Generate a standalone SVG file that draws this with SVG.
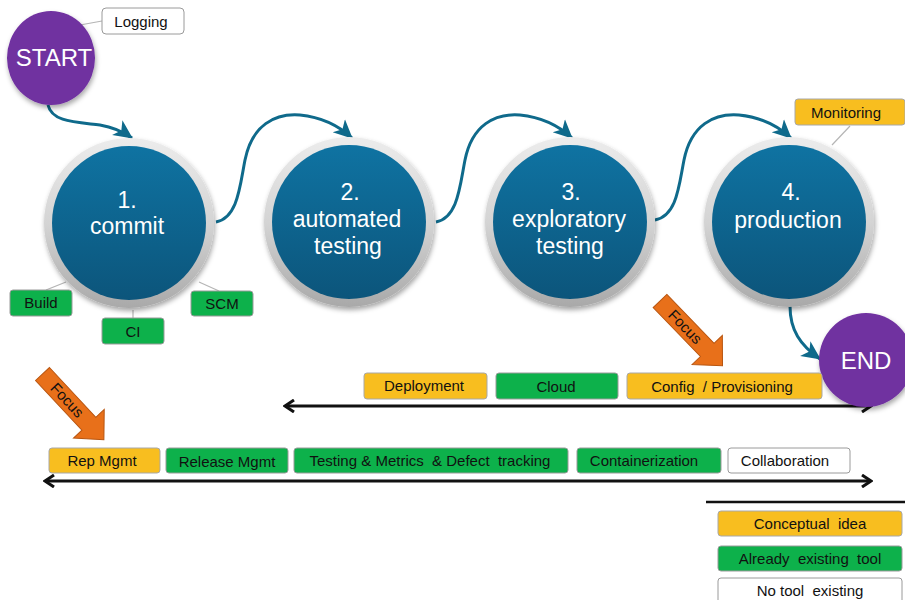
<svg xmlns="http://www.w3.org/2000/svg" width="905" height="600" viewBox="0 0 905 600">
  <defs>
    <style>
      .lbl { font-family: "Liberation Sans", Arial, sans-serif; font-size: 15px; fill: #111; text-anchor: middle; white-space: pre; }
      .big { font-family: "Liberation Sans", Arial, sans-serif; font-size: 23px; fill: #fff; text-anchor: middle; }
      .term { font-family: "Liberation Sans", Arial, sans-serif; font-size: 24px; fill: #fff; text-anchor: middle; }
      .green { fill: #0db14b; stroke: #9a9a9a; stroke-width: 1; }
      .yellow { fill: #f8be1f; stroke: #a8a8a8; stroke-width: 1; }
      .white { fill: #ffffff; stroke: #9a9a9a; stroke-width: 1; }
      .tie { stroke: #b5b5b5; stroke-width: 1.2; fill: none; }
      .flow { stroke: #0f6a8b; stroke-width: 3; fill: none; marker-end: url(#tealHead); }
      .span { stroke: #111; stroke-width: 3; fill: none; marker-start: url(#chev); marker-end: url(#chev); }
      .focus { fill: #e8701a; stroke: #b85510; stroke-width: 1; }
      .ftxt { font-family: "Liberation Sans", Arial, sans-serif; font-size: 15px; fill: #111; text-anchor: middle; }
    </style>
    <linearGradient id="ring" x1="0" y1="0" x2="0" y2="1">
      <stop offset="0" stop-color="#ececec"/>
      <stop offset="0.5" stop-color="#d4d4d4"/>
      <stop offset="1" stop-color="#a9a9a9"/>
    </linearGradient>
    <linearGradient id="disc" x1="0" y1="0" x2="0" y2="1">
      <stop offset="0" stop-color="#0f73a2"/>
      <stop offset="1" stop-color="#0c557b"/>
    </linearGradient>
    <filter id="shade" x="-20%" y="-20%" width="140%" height="140%">
      <feDropShadow dx="1" dy="3" stdDeviation="2.5" flood-color="#000" flood-opacity="0.35"/>
    </filter>
    <marker id="tealHead" markerUnits="userSpaceOnUse" markerWidth="20" markerHeight="20" viewBox="0 0 20 20" refX="18" refY="10" orient="auto">
      <path d="M0,1 L19,10 L0,19 L5,10 Z" fill="#0f6a8b"/>
    </marker>
    <marker id="chev" markerUnits="userSpaceOnUse" markerWidth="14" markerHeight="14" viewBox="0 0 14 14" refX="12" refY="7" orient="auto-start-reverse">
      <path d="M3,1 L12,7 L3,13" fill="none" stroke="#111" stroke-width="3"/>
    </marker>
  </defs>

  <!-- flow connectors between stages -->
  <g id="connectors">
    <path class="flow" d="M48,105 C52,122 75,122 100,125 C112,127 122,131 132,138"/>
    <path class="flow" d="M216,222 C238,218 240,185 245,160 C252,125 275,113 300,115 C320,117 338,125 352,138"/>
    <path class="flow" d="M436,222 C458,218 460,185 465,160 C472,125 495,113 520,115 C540,117 558,125 572,138"/>
    <path class="flow" d="M655,220 C677,216 679,185 684,160 C691,125 714,113 739,115 C759,117 777,125 791,138"/>
    <path class="flow" d="M790,306 C790,330 800,345 820,359"/>
    <!-- thin ties from stages to their tool labels -->
    <line class="tie" x1="80" y1="25" x2="102" y2="21"/>
    <line class="tie" x1="46" y1="290" x2="66" y2="282"/>
    <line class="tie" x1="133" y1="318" x2="133" y2="310"/>
    <line class="tie" x1="199" y1="282" x2="219" y2="291"/>
    <line class="tie" x1="850" y1="126" x2="832" y2="145"/>
    <!-- spans -->
    <line class="span" x1="285" y1="406" x2="871" y2="406"/>
    <line class="span" x1="45" y1="481" x2="871" y2="481"/>
    <line x1="706" y1="502" x2="905" y2="502" stroke="#111" stroke-width="2.5"/>
  </g>

  <g id="start">
    <ellipse cx="51" cy="58" rx="44" ry="47" fill="#7030a0" filter="url(#shade)"/>
    <text class="term" x="54" y="66">START</text>
  </g>
  <g id="logging">
    <rect class="white" x="102" y="8" width="82" height="26" rx="4"/>
    <text class="lbl" x="141" y="27">Logging</text>
  </g>

  <g id="stage1">
    <circle cx="129" cy="223" r="85" fill="url(#ring)" filter="url(#shade)"/>
    <circle cx="129" cy="223" r="77" fill="url(#disc)"/>
    <text class="big" x="127" y="208">1.</text>
    <text class="big" x="127" y="234">commit</text>
  </g>
  <g id="stage2">
    <circle cx="349" cy="222" r="85" fill="url(#ring)" filter="url(#shade)"/>
    <circle cx="349" cy="222" r="77" fill="url(#disc)"/>
    <text class="big" x="350" y="200">2.</text>
    <text class="big" x="347" y="227">automated</text>
    <text class="big" x="348" y="254">testing</text>
  </g>
  <g id="stage3">
    <circle cx="570" cy="222" r="85" fill="url(#ring)" filter="url(#shade)"/>
    <circle cx="570" cy="222" r="77" fill="url(#disc)"/>
    <text class="big" x="571" y="200">3.</text>
    <text class="big" x="569" y="227">exploratory</text>
    <text class="big" x="570" y="254">testing</text>
  </g>
  <g id="stage4">
    <circle cx="789" cy="222" r="85" fill="url(#ring)" filter="url(#shade)"/>
    <circle cx="789" cy="222" r="77" fill="url(#disc)"/>
    <text class="big" x="791" y="200">4.</text>
    <text class="big" x="788" y="228">production</text>
  </g>

  <g id="end">
    <circle cx="866" cy="360" r="47" fill="#7030a0" filter="url(#shade)"/>
    <text class="term" x="866" y="369">END</text>
  </g>

  <g id="build"><rect class="green" x="10" y="290" width="62" height="26" rx="3"/><text class="lbl" x="41" y="308">Build</text></g>
  <g id="ci"><rect class="green" x="102" y="318" width="62" height="26" rx="3"/><text class="lbl" x="133" y="337">CI</text></g>
  <g id="scm"><rect class="green" x="191" y="291" width="62" height="25" rx="3"/><text class="lbl" x="222" y="309">SCM</text></g>
  <g id="monitoring"><rect class="yellow" x="795" y="99" width="110" height="26" rx="3"/><text class="lbl" x="846" y="118">Monitoring</text></g>

  <g id="deployment"><rect class="yellow" x="364" y="373" width="123" height="26" rx="3"/><text class="lbl" x="424" y="391">Deployment</text></g>
  <g id="cloud"><rect class="green" x="496" y="373" width="122" height="26" rx="3"/><text class="lbl" x="556" y="392">Cloud</text></g>
  <g id="config"><rect class="yellow" x="627" y="373" width="195" height="26" rx="3"/><text class="lbl" x="722" y="392" xml:space="preserve">Config  / Provisioning</text></g>

  <g id="repmgmt"><rect class="yellow" x="49" y="448" width="111" height="25" rx="3"/><text class="lbl" x="102" y="466">Rep Mgmt</text></g>
  <g id="releasemgmt"><rect class="green" x="166" y="448" width="122" height="25" rx="3"/><text class="lbl" x="227" y="467">Release Mgmt</text></g>
  <g id="testing"><rect class="green" x="294" y="448" width="274" height="25" rx="3"/><text class="lbl" x="430" y="466" xml:space="preserve">Testing &amp; Metrics  &amp; Defect  tracking</text></g>
  <g id="containerization"><rect class="green" x="577" y="448" width="144" height="25" rx="3"/><text class="lbl" x="644" y="466">Containerization</text></g>
  <g id="collaboration"><rect class="white" x="728" y="448" width="122" height="25" rx="3"/><text class="lbl" x="785" y="466">Collaboration</text></g>

  <g id="focus1">
    <g transform="translate(42.5,374) rotate(47)">
      <path class="focus" d="M0,-9.5 L68,-9.5 L68,-21 L90,0 L68,21 L68,9.5 L0,9.5 Z"/>
      <text class="ftxt" x="36" y="5">Focus</text>
    </g>
  </g>
  <g id="focus2">
    <g transform="translate(660,301) rotate(46)">
      <path class="focus" d="M0,-9.5 L68,-9.5 L68,-21 L90,0 L68,21 L68,9.5 L0,9.5 Z"/>
      <text class="ftxt" x="36" y="5">Focus</text>
    </g>
  </g>

  <g id="legend">
    <g id="legend-concept"><rect class="yellow" x="718" y="511" width="184" height="25" rx="3"/><text class="lbl" x="810" y="529" xml:space="preserve">Conceptual  idea</text></g>
    <g id="legend-existing"><rect class="green" x="718" y="546" width="184" height="25" rx="3"/><text class="lbl" x="810" y="564" xml:space="preserve">Already  existing  tool</text></g>
    <g id="legend-none"><rect class="white" x="718" y="578" width="184" height="30" rx="3"/><text class="lbl" x="810" y="596" xml:space="preserve">No tool  existing</text></g>
  </g>
</svg>
